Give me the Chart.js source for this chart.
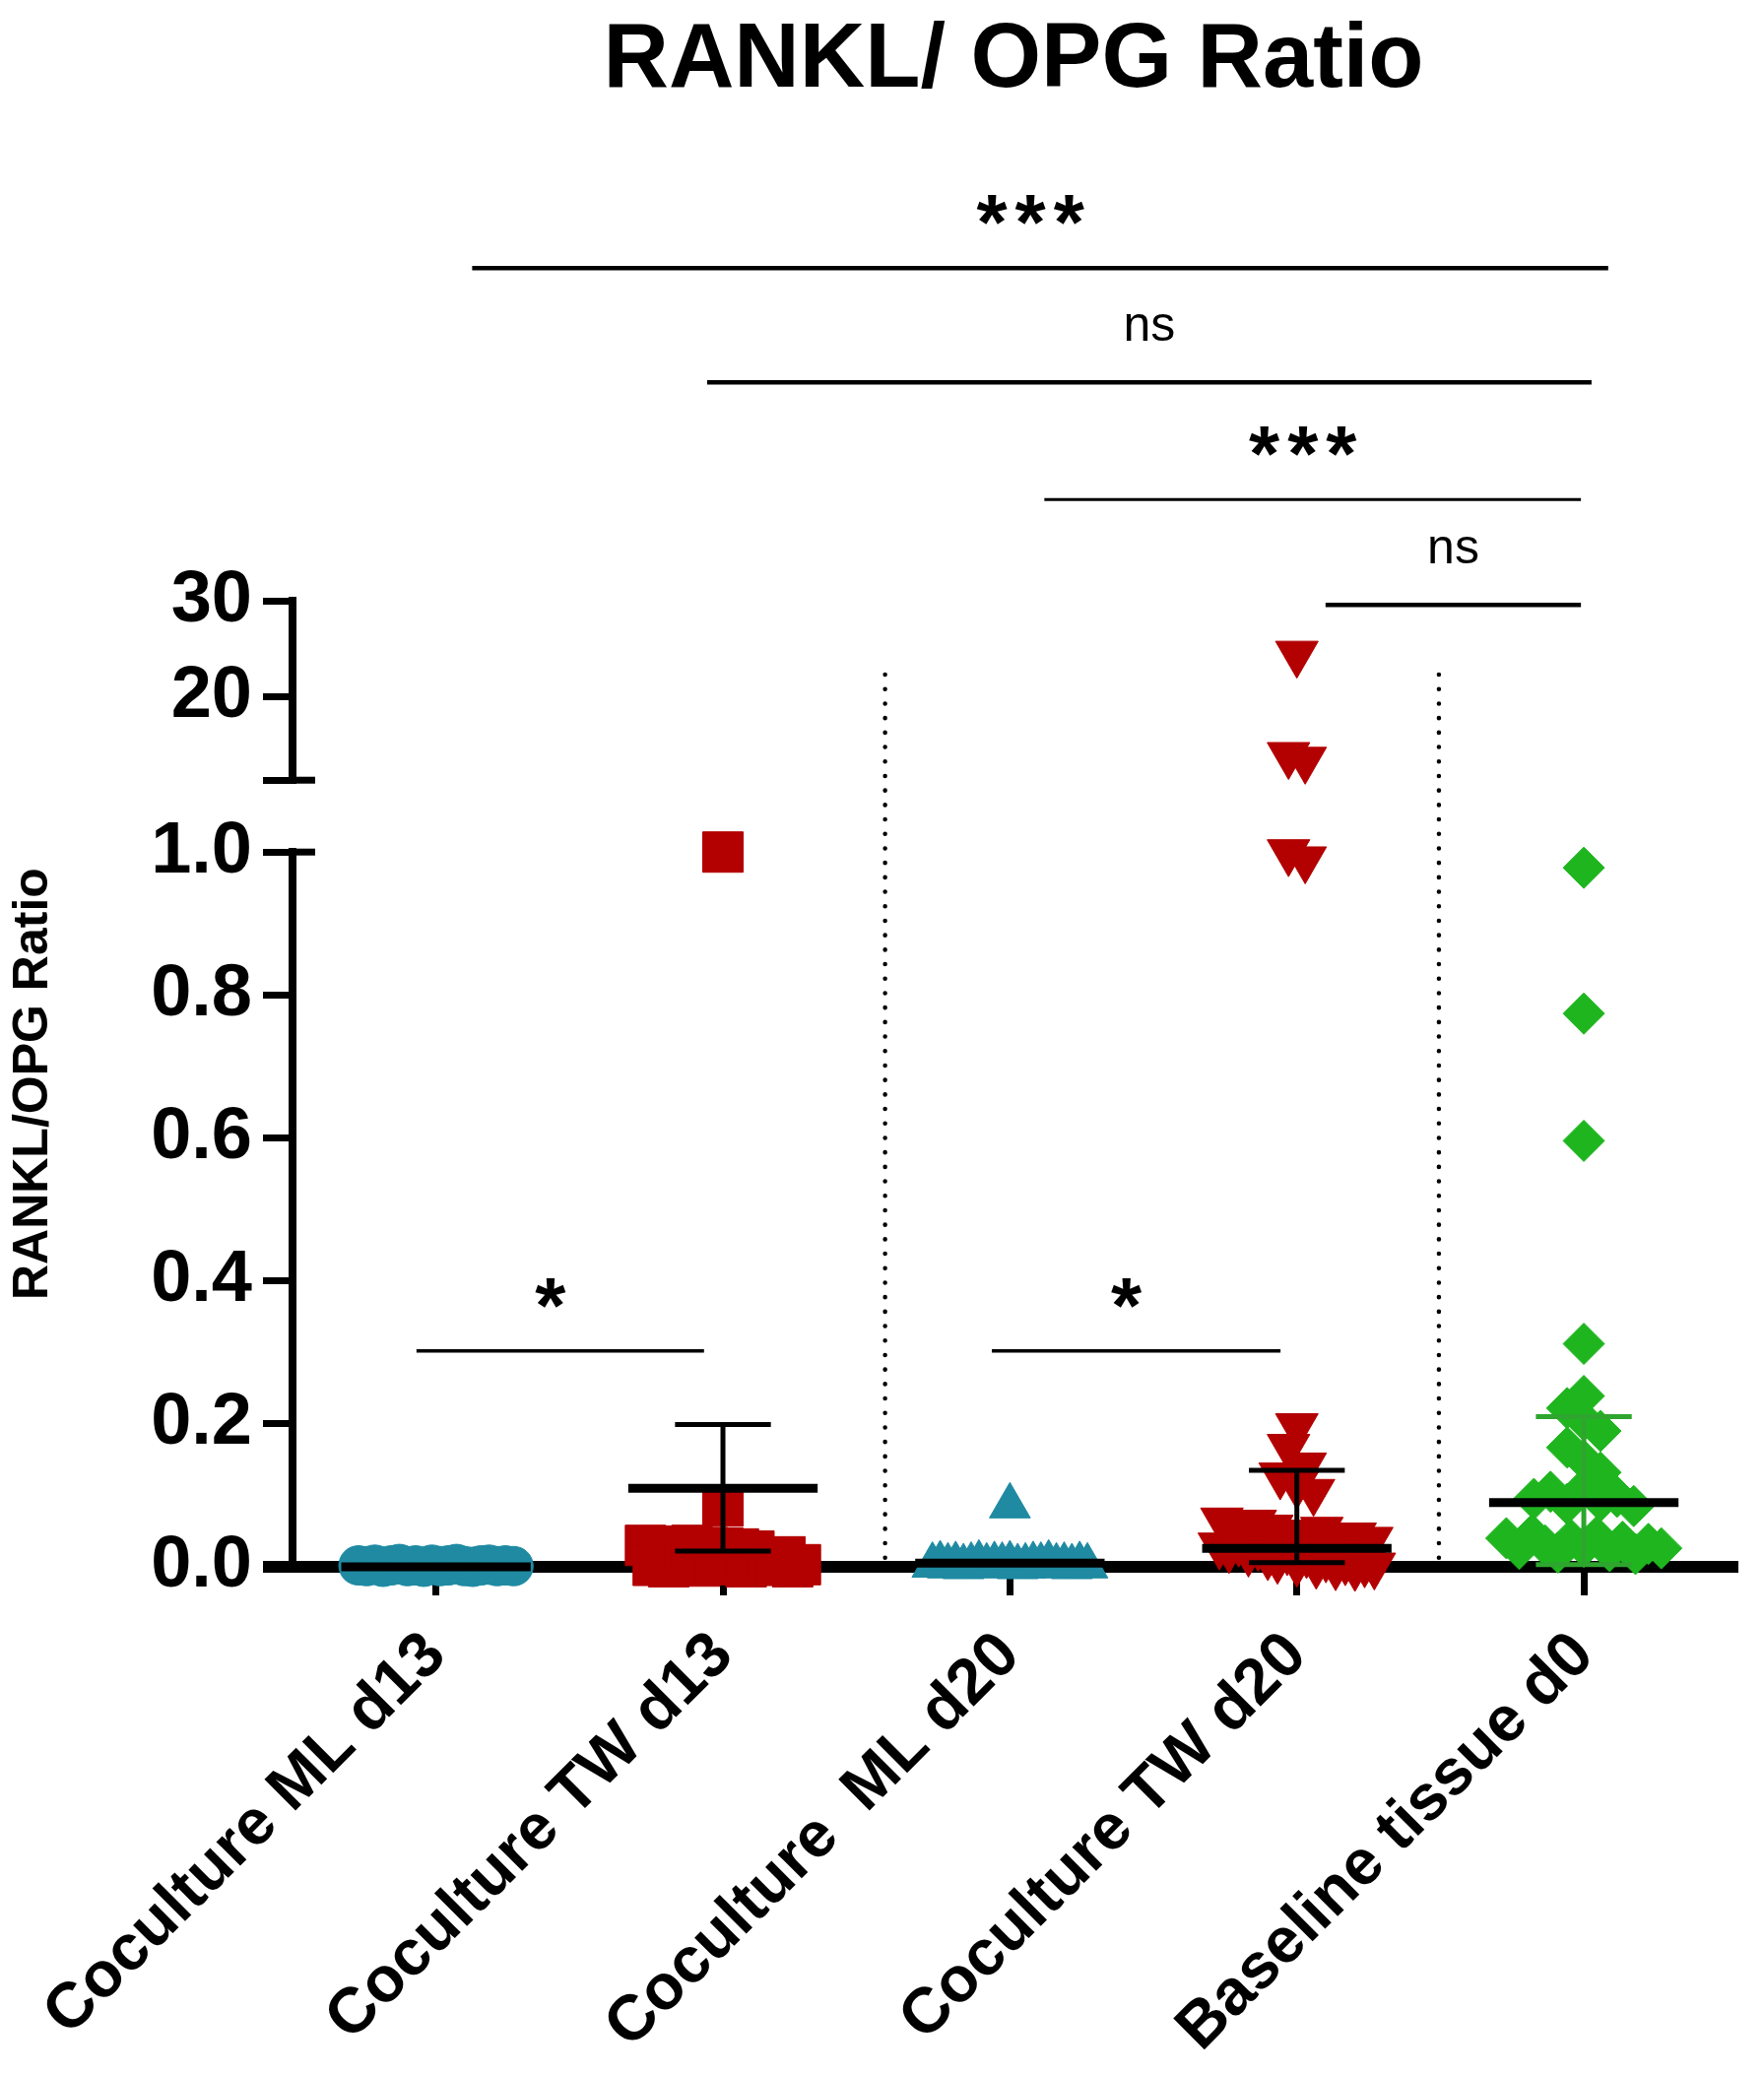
<!DOCTYPE html>
<html>
<head>
<meta charset="utf-8">
<title>RANKL/ OPG Ratio</title>
<script src="https://cdn.jsdelivr.net/npm/chart.js@4.4.1/dist/chart.umd.min.js"></script>
<style>
  html, body { margin: 0; padding: 0; background: #fff; }
  #wrap { width: 1791px; height: 2106px; position: relative; }
</style>
</head>
<body>
<div id="wrap"><canvas id="ratioChart"></canvas></div>
<script>
// ---------------------------------------------
// Data
// ---------------------------------------------
const categories = ['Coculture ML d13', 'Coculture TW d13', 'Coculture  ML d20', 'Coculture TW d20', 'Baseline tissue d0'];

const mlD13 = [0.002, 0.001, 0.003, 0.000, 0.002, 0.004, 0.001, 0.002, 0.000, 0.003,
               0.001, 0.002, 0.004, 0.001, 0.000, 0.002, 0.003, 0.001, 0.002, 0.001];
const twD13 = [1.0, 0.085, 0.030, 0.002, 0.029, 0.000, 0.028, 0.004, 0.030, 0.001, 0.027, 0.006,
               0.026, 0.003, 0.025, 0.000, 0.022, 0.012, 0.008, 0.002, 0.014, 0.000, 0.003];
const mlD20 = [0.085, 0.002, 0.004, 0.001, 0.003, 0.000, 0.002, 0.005, 0.001, 0.003, 0.002,
               0.004, 0.000, 0.001, 0.003, 0.002, 0.005, 0.001, 0.002, 0.000, 0.003, 0.001];
const twD20 = [24.5, 13.9, 13.4, 1.0, 0.99, 0.197, 0.168, 0.142, 0.128, 0.115, 0.105,
               0.065, 0.058, 0.062, 0.055, 0.048, 0.040, 0.052, 0.036, 0.044, 0.030, 0.038,
               0.025, 0.034, 0.020, 0.028, 0.015, 0.010, 0.022, 0.006, 0.018, 0.003, 0.012,
               0.001, 0.008, 0.000, 0.005, 0.002];
const baseline = [0.978, 0.774, 0.596, 0.312, 0.239, 0.222, 0.205, 0.190, 0.167, 0.149, 0.132,
                  0.095, 0.105, 0.088, 0.110, 0.092, 0.098, 0.085,
                  0.040, 0.025, 0.045, 0.030, 0.020, 0.038, 0.028, 0.042, 0.022, 0.035, 0.018, 0.032, 0.026];

// centre line and whiskers of each group
const centerLine = [0.0, 0.11, 0.005, 0.026, 0.09];
const errUpper = [0.0, 0.199, 0.005, 0.135, 0.21];
const errLower = [0.0, 0.022, 0.005, 0.006, 0.003];

// broken y axis: lower and upper segment ticks
const lowTicks = [0, 0.2, 0.4, 0.6, 0.8, 1.0];
const lowTickLabels = ['0.0', '0.2', '0.4', '0.6', '0.8', '1.0'];
const highTicks = [11.25, 20, 30];
const highTickLabels = ['', '20', '30'];

// significance brackets (groups compared + label)
const sigFrom = [0, 1, 2, 3, 0, 2];
const sigTo = [4, 4, 4, 4, 1, 3];
const sigText = ['***', 'ns', '***', 'ns', '*', '*'];

// ---------------------------------------------
// Layout / style
// ---------------------------------------------
const FONT = "'Liberation Sans', Arial, Helvetica, sans-serif";
const TEAL = '#1f8aa2';
const RED = '#b30000';
const GREEN = '#1fb51f';

const groupStyle = [
  { style: 'circle', radius: 20, rotation: 0, color: TEAL },
  { style: 'rect', radius: 29, rotation: 0, color: RED },
  { style: 'triangle', radius: 24, rotation: 0, color: TEAL },
  { style: 'triangle', radius: 25, rotation: 180, color: RED },
  { style: 'rectRot', radius: 21, rotation: 0, color: GREEN }
];
const whiskerColor = ['#000', '#000', '#000', '#000', '#2ea52e'];
const whiskerWidth = [5, 5, 5, 5, 5];
const groupValues = [mlD13, twD13, mlD20, twD20, baseline];
const BREAK_AT = 1.05;   // values above go on the upper segment
const HALF_LINE = 0.33;  // half width of centre line (category units)
const HALF_CAP = 0.167;
const SWARM_STEP = 0.058;
const SWARM_MAX = 0.54;

// bracket geometry
const sigPadStart = [0.126, -0.055, 0.12, 0.10, -0.068, -0.063];
const sigPadEnd = [0.085, 0.027, -0.01, -0.01, -0.066, -0.057];
const sigLevel = [33.8, 22.2, 10.3, -0.4, 0.302, 0.302];
const sigAxis = ['ySig', 'ySig', 'ySig', 'ySig', 'yLow', 'yLow'];
const sigWidth = [4.5, 4.5, 3, 4.5, 3.5, 3.5];

const dividerAt = [1.565, 3.495];
const dividerTop = 22.3;

// spread points with close values side by side (like the prism scatter)
function swarm(values, group, bin) {
  const idx = values.map((v, i) => i).sort((a, b) => values[a] - values[b]);
  const rows = [];
  let row = [];
  idx.forEach((i) => {
    if (row.length && values[i] - values[row[0]] > bin) {
      rows.push(row);
      row = [];
    }
    row.push(i);
  });
  if (row.length) rows.push(row);

  const pts = [];
  rows.forEach((r) => {
    r.sort((a, b) => a - b);
    const gap = r.length > 1 ? Math.min(SWARM_STEP, SWARM_MAX / (r.length - 1)) : 0;
    r.forEach((i, k) => pts.push({ x: group + (k - (r.length - 1) / 2) * gap, y: values[i] }));
  });
  return pts;
}

function segment(x1, y1, x2, y2, axis, width, color, order) {
  return {
    data: [{ x: x1, y: y1 }, { x: x2, y: y2 }],
    yAxisID: axis, xAxisID: 'x',
    showLine: true, pointRadius: 0, pointHoverRadius: 0,
    borderColor: color, borderWidth: width, borderCapStyle: 'butt',
    fill: false, clip: false, order
  };
}

const datasets = [];

// points
groupValues.forEach((vals, g) => {
  const st = groupStyle[g];
  const parts = [
    [vals.filter((v) => v <= BREAK_AT), 'yLow', 0.035],
    [vals.filter((v) => v > BREAK_AT), 'yHigh', 3.5]
  ];
  parts.forEach(([arr, axis, bin]) => {
    if (!arr.length) return;
    datasets.push({
      label: categories[g],
      data: swarm(arr, g, bin),
      yAxisID: axis, xAxisID: 'x',
      pointStyle: st.style, pointRadius: st.radius, pointHoverRadius: st.radius,
      pointRotation: st.rotation,
      backgroundColor: st.color, borderColor: st.color, borderWidth: 1,
      showLine: false, clip: false, order: 3
    });
  });
});

// centre lines + whiskers
centerLine.forEach((c, g) => {
  datasets.push(segment(g - HALF_LINE, c, g + HALF_LINE, c, 'yLow', 9, '#000', 1));
  if (errUpper[g] > errLower[g]) {
    const col = whiskerColor[g], w = whiskerWidth[g];
    datasets.push(segment(g, errLower[g], g, errUpper[g], 'yLow', w, col, 2));
    datasets.push(segment(g - HALF_CAP, errUpper[g], g + HALF_CAP, errUpper[g], 'yLow', w, col, 2));
    datasets.push(segment(g - HALF_CAP, errLower[g], g + HALF_CAP, errLower[g], 'yLow', w, col, 2));
  }
});

// significance bars
sigFrom.forEach((f, i) => {
  datasets.push(segment(f + sigPadStart[i], sigLevel[i], sigTo[i] + sigPadEnd[i], sigLevel[i],
    sigAxis[i], sigWidth[i], '#000', 1));
});

// ---------------------------------------------
// Extra drawing: dotted dividers, labels, caps
// ---------------------------------------------
const extrasPlugin = {
  id: 'extras',
  beforeDatasetsDraw(chart) {
    const { ctx, scales: { x, yHigh, yLow } } = chart;
    ctx.save();
    ctx.strokeStyle = '#000';
    ctx.lineWidth = 4.5;
    ctx.lineCap = 'round';
    ctx.setLineDash([0.1, 14.6]);
    dividerAt.forEach((v) => {
      const px = x.getPixelForValue(v);
      ctx.beginPath();
      ctx.moveTo(px, yHigh.getPixelForValue(dividerTop));
      ctx.lineTo(px, yLow.getPixelForValue(0) - 6);
      ctx.stroke();
    });
    ctx.restore();
  },
  afterDatasetsDraw(chart) {
    const { ctx, scales } = chart;
    const x = scales.x;
    ctx.save();
    ctx.fillStyle = '#000';
    ctx.textAlign = 'center';
    ctx.textBaseline = 'alphabetic';
    sigText.forEach((t, i) => {
      const mid = (x.getPixelForValue(sigFrom[i] + sigPadStart[i]) + x.getPixelForValue(sigTo[i] + sigPadEnd[i])) / 2;
      const py = scales[sigAxis[i]].getPixelForValue(sigLevel[i]);
      if (t === 'ns') {
        ctx.letterSpacing = '0px';
        ctx.font = '50px ' + FONT;
        ctx.fillText(t, mid, py - 42);
      } else {
        // stars are spaced a little wider than the font does, and sit a bit left of centre
        ctx.letterSpacing = '8px';
        ctx.font = 'bold 80px ' + FONT;
        ctx.fillText(t, mid - 6, py - 19);
      }
    });
    ctx.letterSpacing = '0px';

    // caps at the axis break
    const axisX = scales.yLow.right;
    ctx.strokeStyle = '#000';
    ctx.lineWidth = 7;
    [scales.yHigh.bottom, scales.yLow.top].forEach((py) => {
      ctx.beginPath();
      ctx.moveTo(axisX - 2, py);
      ctx.lineTo(axisX + 23, py);
      ctx.stroke();
    });

    // y axis title, centred on the whole broken axis
    ctx.translate(scales.yLow.left + 34, (scales.yHigh.top + scales.yLow.bottom) / 2);
    ctx.rotate(-Math.PI / 2);
    ctx.textBaseline = 'middle';
    ctx.font = 'bold 50px ' + FONT;
    ctx.fillText('RANKL/OPG Ratio', 0, 0);
    ctx.restore();
  }
};

const yTickFont = { family: FONT, size: 74, weight: 'bold' };
const yGrid = {
  drawOnChartArea: false, drawTicks: true, tickLength: 30, color: '#000',
  lineWidth: (c) => (c.tick && c.tick.value === 0 ? 12 : 7)
};

new Chart(document.getElementById('ratioChart'), {
  type: 'scatter',
  data: { datasets },
  options: {
    responsive: true,
    maintainAspectRatio: false,
    animation: false,
    layout: { padding: { top: 0, right: 21, bottom: 0, left: 0 } },
    plugins: {
      legend: { display: false },
      tooltip: { enabled: false },
      title: {
        display: true,
        text: 'RANKL/ OPG Ratio',
        fullSize: false,
        color: '#000',
        font: { family: FONT, size: 92, weight: 'bold' },
        padding: { top: 7, bottom: 23 }
      }
    },
    scales: {
      x: {
        type: 'linear', min: -0.5, max: 4.525,
        afterBuildTicks: (s) => { s.ticks = categories.map((c, i) => ({ value: i })); },
        afterFit: (s) => { s.height = 515; s.paddingLeft = 0; s.paddingRight = 0; },
        ticks: {
          callback: (v) => categories[Math.round(v)],
          color: '#000',
          font: { family: FONT, size: 65, weight: 'bold' },
          minRotation: 45, maxRotation: 45, padding: 23, autoSkip: false
        },
        grid: { drawOnChartArea: false, tickLength: 29, lineWidth: 7, color: '#000' },
        border: { width: 12, color: '#000' }
      },
      ySig: {
        type: 'linear', position: 'left', stack: 'y', stackWeight: 470, weight: 4,
        display: false, min: 0, max: 47
      },
      yHigh: {
        type: 'linear', position: 'left', stack: 'y', stackWeight: 182, weight: 3,
        min: 11.25, max: 30,
        afterBuildTicks: (s) => { s.ticks = highTicks.map((v) => ({ value: v })); },
        afterFit: (s) => { s.width = 297; },
        ticks: {
          callback: (v) => highTickLabels[highTicks.indexOf(v)],
          color: '#000', font: yTickFont, padding: 11, autoSkip: false
        },
        grid: yGrid,
        border: { width: 8, color: '#000' }
      },
      yGap: {
        type: 'linear', position: 'left', stack: 'y', stackWeight: 73, weight: 2,
        display: false, min: 0, max: 1
      },
      yLow: {
        type: 'linear', position: 'left', stack: 'y', stackWeight: 726, weight: 1,
        min: 0, max: 1,
        afterBuildTicks: (s) => { s.ticks = lowTicks.map((v) => ({ value: v })); },
        afterFit: (s) => { s.width = 297; },
        ticks: {
          callback: (v) => lowTickLabels[lowTicks.indexOf(v)],
          color: '#000', font: yTickFont, padding: 11, autoSkip: false
        },
        grid: yGrid,
        border: { width: 8, color: '#000' }
      }
    }
  },
  plugins: [extrasPlugin]
});
</script>
</body>
</html>
